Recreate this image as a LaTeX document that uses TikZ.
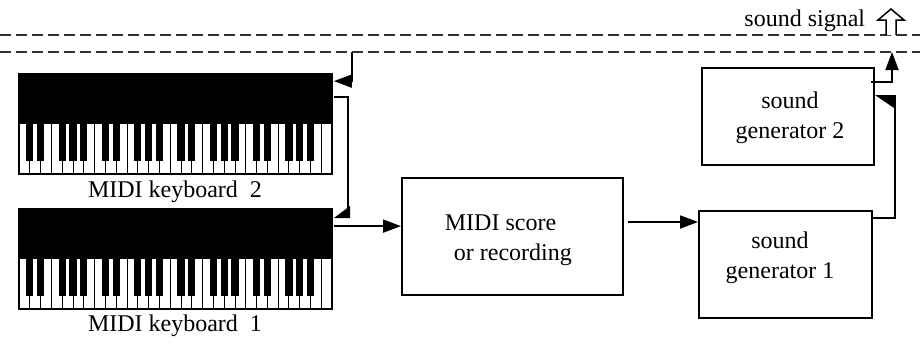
\documentclass[tikz,border=0pt]{standalone}
\usepackage{fontspec}
\setmainfont{Liberation Serif}
\usetikzlibrary{arrows.meta,calc}

% width of one white key
\def\kw{10.793}

% keyboard body, white and black keys inside a named node
\newcommand\pianokeys[1]{%
  \begin{scope}[shift={(#1.north west)}]
    \fill[black] (0,0) rectangle (313,50);
    \fill[white] (0,50) rectangle (313,100);
    \foreach \i in {1,...,28}
      \draw[line width=0.9pt] ({\i*\kw},50) -- ({\i*\kw},100);
    \foreach \o in {0,...,3}
      \foreach \k in {1,2,4,5,6}
        \fill[black] ({(7*\o+\k)*\kw-3.6},49) rectangle ++(7.2,38);
    \draw[line width=1.6pt] (0,0) rectangle (313,100);
  \end{scope}}

\begin{document}
\begin{tikzpicture}[x=1pt,y=-1pt,
  line width=1.8pt,
  txt/.style={font=\fontsize{24}{30}\selectfont, inner sep=0pt, align=center},
  box/.style={draw, line width=2pt, inner sep=0pt},
  kbd/.style={inner sep=0pt, minimum width=313pt, minimum height=100pt},
  dashline/.style={line width=1.8pt, black!80, dash pattern=on 11pt off 5pt},
  arr/.style={-{Triangle[length=18pt,width=13pt]}},
  harpl/.style={-{Stealth[inset=0pt,length=15pt,width=22pt,harpoon,swap]}},
  harpr/.style={-{Stealth[inset=0pt,length=18pt,width=24pt,harpoon]}}]
\useasboundingbox (0,0) rectangle (920,349);

% signal bus
\draw[dashline] (0,35) -- (920,35);
\draw[dashline] (0,52) -- (920,52);
\coordinate (tapA) at (352,52);
\coordinate (tapB) at (892,52);

\node[txt, anchor=base east] (sigtxt) at (866,26) {sound signal};
\draw[line width=1.5pt, fill=white] (886,35) -- (886,20) -- (878,20) -- (891,9)
  -- (904,20) -- (896,20) -- (896,35);

% keyboards
\node[kbd] (kb2) at (176.5,125) {};
\pianokeys{kb2}
\node[txt, anchor=base] (kb2lbl) at (175,197) {MIDI keyboard\ \ 2};

\node[kbd] (kb1) at (176.5,260) {};
\pianokeys{kb1}
\node[txt, anchor=base] (kb1lbl) at (175,331) {MIDI keyboard\ \ 1};

% processing boxes
\node[box, minimum width=221pt, minimum height=117pt] (midi) at (512.5,236.5) {};
\node[txt, align=left, anchor=west] (miditxt) at (444,240)
  {MIDI score\\\hspace*{9pt}or recording};

\node[box, minimum width=173pt, minimum height=107pt] (sg1) at (785.5,264.5) {};
\node[txt] (sg1txt) at (780,257.5) {sound\\generator 1};

\node[box, minimum width=172pt, minimum height=97pt] (sg2) at (788,116.5) {};
\node[txt] (sg2txt) at (790,117.5) {sound\\generator 2};

% connections
\draw[arr] (tapA) |- ($(kb2.north east)+(0,7)$);
\draw[harpl] ($(kb2.north east)+(0,23)$) -- ++(14,0) |- ($(kb1.north east)+(0,8)$);
\draw[arr] ($(kb1.north east)+(0,17)$) coordinate (k1o) -- (k1o -| midi.west);
\draw[arr] ($(midi.north east)+(4,45)$) coordinate (mo) -- (mo -| sg1.west);
\draw[harpr] ($(sg1.north east)+(0,8)$) -- ++(22,0) |- ($(sg2.north east)+(0,29)$);
\draw[arr] ($(sg2.north east)+(-4,15)$) -| (tapB);
\end{tikzpicture}
\end{document}
